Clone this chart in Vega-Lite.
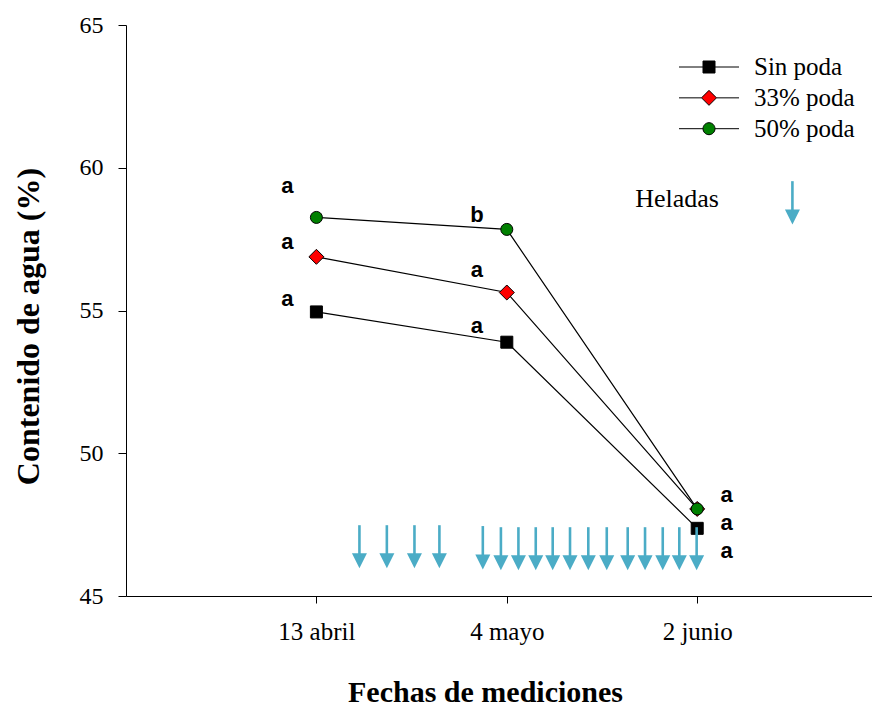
{
  "$schema": "https://vega.github.io/schema/vega-lite/v6.json",
  "autosize": {"type": "none"},
  "width": 746,
  "height": 571,
  "padding": {"left": 126, "top": 25, "right": 0, "bottom": 110},
  "background": "white",
  "config": {"view": {"stroke": null}},
  "datasets": {
    "series": [
      {"pos": 1, "fecha": "13 abril", "serie": "Sin poda", "agua": 54.95},
      {"pos": 2, "fecha": "4 mayo", "serie": "Sin poda", "agua": 53.89},
      {"pos": 3, "fecha": "2 junio", "serie": "Sin poda", "agua": 47.37},
      {"pos": 1, "fecha": "13 abril", "serie": "33% poda", "agua": 56.88},
      {"pos": 2, "fecha": "4 mayo", "serie": "33% poda", "agua": 55.63},
      {"pos": 3, "fecha": "2 junio", "serie": "33% poda", "agua": 48.05},
      {"pos": 1, "fecha": "13 abril", "serie": "50% poda", "agua": 58.26},
      {"pos": 2, "fecha": "4 mayo", "serie": "50% poda", "agua": 57.84},
      {"pos": 3, "fecha": "2 junio", "serie": "50% poda", "agua": 48.05}
    ],
    "letras": [
      {"x": 0.847, "y": 59.13, "letra": "a"},
      {"x": 0.847, "y": 57.14, "letra": "a"},
      {"x": 0.847, "y": 55.16, "letra": "a"},
      {"x": 1.843, "y": 58.10, "letra": "b"},
      {"x": 1.843, "y": 56.16, "letra": "a"},
      {"x": 1.843, "y": 54.20, "letra": "a"},
      {"x": 3.155, "y": 48.30, "letra": "a"},
      {"x": 3.155, "y": 47.31, "letra": "a"},
      {"x": 3.155, "y": 46.34, "letra": "a"}
    ],
    "heladas": [
      {"x": 1.226, "top": 47.48, "tip": 45.97},
      {"x": 1.370, "top": 47.48, "tip": 45.97},
      {"x": 1.515, "top": 47.48, "tip": 45.97},
      {"x": 1.646, "top": 47.48, "tip": 45.97},
      {"x": 1.874, "top": 47.45, "tip": 45.93},
      {"x": 1.969, "top": 47.41, "tip": 45.90},
      {"x": 2.061, "top": 47.41, "tip": 45.90},
      {"x": 2.152, "top": 47.41, "tip": 45.90},
      {"x": 2.241, "top": 47.41, "tip": 45.90},
      {"x": 2.332, "top": 47.41, "tip": 45.90},
      {"x": 2.428, "top": 47.41, "tip": 45.90},
      {"x": 2.525, "top": 47.41, "tip": 45.90},
      {"x": 2.635, "top": 47.41, "tip": 45.90},
      {"x": 2.726, "top": 47.41, "tip": 45.90},
      {"x": 2.819, "top": 47.41, "tip": 45.90},
      {"x": 2.906, "top": 47.41, "tip": 45.90},
      {"x": 2.997, "top": 47.41, "tip": 45.90},
      {"x": 3.500, "top": 59.53, "tip": 58.01}
    ],
    "nota": [
      {"x": 2.894, "y": 58.63, "texto": "Heladas"}
    ]
  },
  "layer": [
    {
      "data": {"name": "series"},
      "mark": {"type": "line", "strokeWidth": 1.2},
      "encoding": {
        "x": {
          "field": "pos", "type": "quantitative",
          "scale": {"domain": [0, 3.918], "nice": false, "zero": false},
          "axis": {
            "values": [1, 2, 3],
            "labelExpr": "datum.value == 1 ? '13 abril' : datum.value == 2 ? '4 mayo' : '2 junio'",
            "grid": false, "tickSize": 7, "tickColor": "black", "domainColor": "black",
            "labelFont": "Liberation Serif", "labelFontSize": 25, "labelColor": "black",
            "labelPadding": 16, "labelFlush": false, "labelOverlap": false,
            "title": "Fechas de mediciones",
            "titleFont": "Liberation Serif", "titleFontSize": 30, "titleFontWeight": "bold",
            "titleColor": "black", "titleX": 359, "titleY": 105,
            "titleBaseline": "alphabetic", "titleAlign": "center"
          }
        },
        "y": {
          "field": "agua", "type": "quantitative",
          "scale": {"domain": [45, 65], "nice": false, "zero": false},
          "axis": {
            "values": [45, 50, 55, 60, 65],
            "grid": false, "tickSize": 8, "tickColor": "black", "domainColor": "black",
            "labelFont": "Liberation Serif", "labelFontSize": 24, "labelColor": "black",
            "labelPadding": 15,
            "title": "Contenido de agua (%)",
            "titleFont": "Liberation Serif", "titleFontSize": 32, "titleFontWeight": "bold",
            "titleColor": "black", "titleX": -87.5, "titleY": 301,
            "titleBaseline": "alphabetic", "titleAlign": "center", "titleAngle": -90
          }
        },
        "stroke": {
          "field": "serie", "type": "nominal",
          "sort": ["Sin poda", "33% poda", "50% poda"],
          "scale": {"range": ["#000000", "#000000", "#000000"]},
          "legend": {
            "title": null, "orient": "none", "legendX": 570.5, "legendY": 29.5,
            "padding": 0, "rowPadding": 4.85, "symbolSize": 144, "labelOffset": 32.5,
            "labelFont": "Liberation Serif", "labelFontSize": 25, "labelColor": "black",
            "symbolStrokeWidth": 1, "symbolOpacity": 1,
            "symbolType": {"expr": "datum.value == 'Sin poda' ? 'M-5,0H-1M-1,-1H1V1H-1ZM1,0H5' : datum.value == '33% poda' ? 'M-5,0H-1.25M-1.25,0L0,-1.25L1.25,0L0,1.25ZM1.25,0H5' : 'M-5,0H-1M-1,0A1,1 0 1,0 1,0A1,1 0 1,0 -1,0ZM1,0H5'"},
            "symbolFillColor": {"expr": "datum.value == 'Sin poda' ? '#000000' : datum.value == '33% poda' ? '#ff0000' : '#008000'"}
          }
        },
        "order": {"field": "pos"}
      }
    },
    {
      "data": {"name": "series"},
      "mark": {"type": "point", "filled": true, "size": 144, "stroke": "black", "strokeWidth": 1, "opacity": 1},
      "encoding": {
        "x": {"field": "pos", "type": "quantitative"},
        "y": {"field": "agua", "type": "quantitative"},
        "fill": {
          "field": "serie", "type": "nominal",
          "scale": {"domain": ["Sin poda", "33% poda", "50% poda"], "range": ["#000000", "#ff0000", "#008000"]},
          "legend": null
        },
        "shape": {
          "field": "serie", "type": "nominal",
          "scale": {"domain": ["Sin poda", "33% poda", "50% poda"], "range": ["square", "M-1.25,0L0,-1.25L1.25,0L0,1.25Z", "circle"]},
          "legend": null
        }
      }
    },
    {
      "data": {"name": "heladas"},
      "mark": {"type": "rule", "color": "#4bacc6", "strokeWidth": 2.6, "y2Offset": -8},
      "encoding": {
        "x": {"field": "x", "type": "quantitative"},
        "y": {"field": "top", "type": "quantitative"},
        "y2": {"field": "tip"}
      }
    },
    {
      "data": {"name": "heladas"},
      "mark": {"type": "point", "filled": true, "shape": "M-1,-2L1,-2L0,0Z", "size": 225, "color": "#4bacc6", "opacity": 1, "strokeWidth": 0},
      "encoding": {
        "x": {"field": "x", "type": "quantitative"},
        "y": {"field": "tip", "type": "quantitative"}
      }
    },
    {
      "data": {"name": "letras"},
      "mark": {"type": "text", "font": "Liberation Sans", "fontSize": 22, "fontWeight": "bold", "color": "black", "align": "center", "baseline": "alphabetic"},
      "encoding": {
        "x": {"field": "x", "type": "quantitative"},
        "y": {"field": "y", "type": "quantitative"},
        "text": {"field": "letra"}
      }
    },
    {
      "data": {"name": "nota"},
      "mark": {"type": "text", "font": "Liberation Serif", "fontSize": 26, "color": "black", "align": "center", "baseline": "alphabetic"},
      "encoding": {
        "x": {"field": "x", "type": "quantitative"},
        "y": {"field": "y", "type": "quantitative"},
        "text": {"field": "texto"}
      }
    }
  ]
}
